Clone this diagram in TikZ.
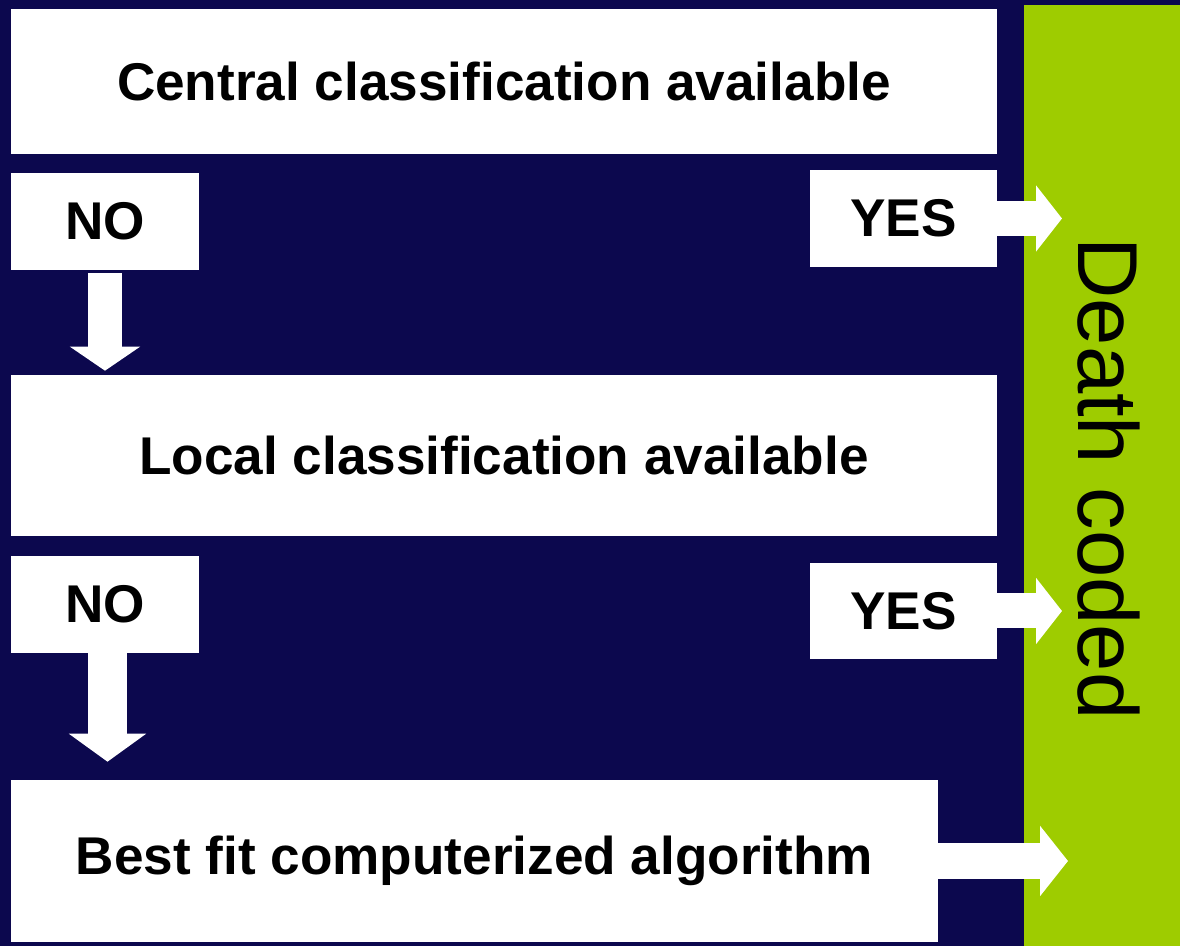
\documentclass[tikz,border=0pt]{standalone}
\usepackage{fontspec}
\setmainfont{Liberation Sans}
\usetikzlibrary{arrows.meta}
\definecolor{navy}{HTML}{0C084E}
\definecolor{leaf}{HTML}{9ECC00}
\begin{document}
\begin{tikzpicture}[
  box/.style={fill=white,inner sep=0pt,font=\fontsize{37.8}{45}\selectfont\bfseries},
  fatarrow/.style n args={3}{white,line width=#1,line cap=butt,-{Triangle[width=#2,length=#3]}}]
\fill[navy](0,0)rectangle(29.5,23.65);
\useasboundingbox(0,0)rectangle(29.5,23.65);
\node[fill=leaf,inner sep=0pt,anchor=south west,minimum width=3.9125cm,minimum height=23.525cm](bar)at(25.5875,0){};
\node[rotate=-90,anchor=base,inner sep=0pt,font=\fontsize{60.5}{72}\selectfont](coded)at(26.95,11.6875){Death coded};
% the three questions
\node[box,minimum width=24.65cm,minimum height=3.625cm](central)at(12.6,21.6125){Central classification available};
\node[box,minimum width=24.65cm,minimum height=4.025cm](local)at(12.6,12.2625){Local classification available};
\node[box,minimum width=23.175cm,minimum height=4.05cm](best)at(11.8625,2.125){Best fit computerized algorithm};
% answers
\node[box,minimum width=4.7cm,minimum height=2.425cm](no1)at(2.625,18.1125){NO};
\node[box,minimum width=4.675cm,minimum height=2.425cm](yes1)at(22.5875,18.1875){YES};
\node[box,minimum width=4.7cm,minimum height=2.425cm](no2)at(2.625,8.5375){NO};
\node[box,minimum width=4.675cm,minimum height=2.4cm](yes2)at(22.5875,8.375){YES};
% arrows
\draw[fatarrow={0.85cm}{1.725cm}{0.6cm},shorten <=0.075cm](no1.south)--([yshift=0.1cm]no1.south|-local.north);
\draw[fatarrow={0.975cm}{1.9cm}{0.7cm}]([xshift=0.0625cm]no2.south)--([xshift=0.0625cm,yshift=0.45cm]no2.south|-best.north);
\draw[fatarrow={0.875cm}{1.625cm}{0.65cm}](yes1.east)--([xshift=0.9625cm]yes1.east-|bar.west);
\draw[fatarrow={0.875cm}{1.625cm}{0.65cm}](yes2.east)--([xshift=0.9625cm]yes2.east-|bar.west);
\draw[fatarrow={0.9cm}{1.725cm}{0.7cm}](best.east)--([xshift=1.1125cm]best.east-|bar.west);
\end{tikzpicture}
\end{document}
